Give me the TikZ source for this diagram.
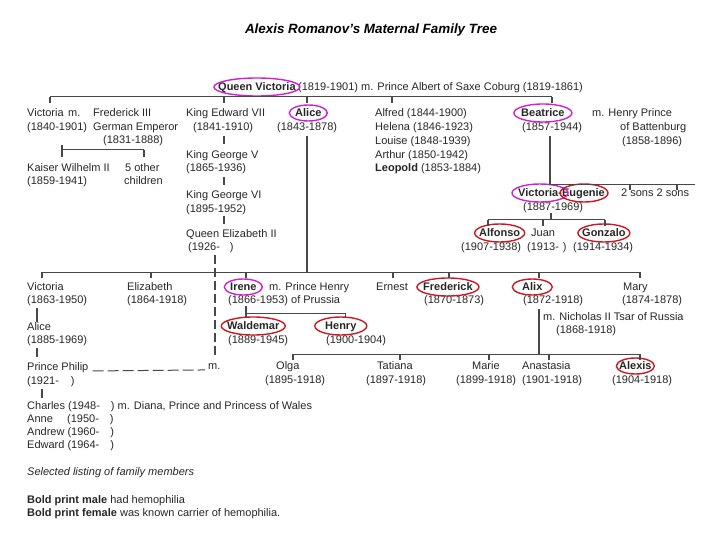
\documentclass[tikz,border=0pt]{standalone}
\usepackage{fontspec}
\setmainfont{Liberation Sans}
\definecolor{ringmag}{RGB}{208,32,208}
\definecolor{ringred}{RGB}{204,24,36}
\definecolor{inkgrey}{RGB}{72,72,72}
\newcommand{\tfs}{\fontsize{11}{13}\selectfont}

\begin{document}
\begin{tikzpicture}[x=1pt,y=-1pt,
  every node/.style={anchor=west,inner sep=0pt,text height=7.5pt,text depth=0pt,font=\tfs,text=black!85},
  heavy/.style={font=\tfs\bfseries},
  title/.style={anchor=center,font=\fontsize{13.4}{16}\selectfont\bfseries\itshape,text=black},
  line/.style={draw=inkgrey,line width=1pt},
  tick/.style={draw=inkgrey,line width=1.4pt},
  carrier/.style={draw=ringmag,line width=1.4pt},
  bleeder/.style={draw=ringred,line width=1.4pt}]
  \useasboundingbox (0,0) rectangle (720,540);

  \node[title] (head) at (371,30) {Alexis Romanov's Maternal Family Tree};

  % Victoria and Albert
  \node[heavy] (qv) at (218,87) {Queen Victoria};
  \node (qvm) at (298,87) {(1819-1901) m. Prince Albert of Saxe Coburg (1819-1861)};

  % their children
  \node (vic) at (27,113) {Victoria};
  \node (vicm) at (68,113) {m.};
  \node (fred) at (93,113) {Frederick III};
  \node (vicd) at (27,127) {(1840-1901)};
  \node (fredt) at (93,127) {German Emperor};
  \node (fredd) at (103,140) {(1831-1888)};
  \node (kw) at (27,168) {Kaiser Wilhelm II};
  \node (kwd) at (27,181) {(1859-1941)};
  \node (oth) at (125,168) {5 other};
  \node (othd) at (124,181) {children};

  \node (ke) at (186,113) {King Edward VII};
  \node (ked) at (193,127) {(1841-1910)};
  \node (kgv) at (186,155) {King George V};
  \node (kgvd) at (186,168) {(1865-1936)};
  \node (kgvi) at (186,195) {King George VI};
  \node (kgvid) at (186,209) {(1895-1952)};
  \node (qe) at (186,234) {Queen Elizabeth II};
  \node (qed) at (188,247) {(1926-\hspace{10pt})};

  \node[heavy] (alice) at (295,113) {Alice};
  \node (aliced) at (277,127) {(1843-1878)};

  \node (alf) at (375,113) {Alfred (1844-1900)};
  \node (hel) at (375,127) {Helena (1846-1923)};
  \node (lou) at (375,141) {Louise (1848-1939)};
  \node (art) at (375,155) {Arthur (1850-1942)};
  \node (leo) at (375,168) {\textbf{Leopold} (1853-1884)};

  \node[heavy] (bea) at (521,113) {Beatrice};
  \node (bead) at (522,127) {(1857-1944)};
  \node (hp) at (592,113) {m. Henry Prince};
  \node (hpt) at (620,127) {of Battenburg};
  \node (hpd) at (622,141) {(1858-1896)};

  \node[heavy] (ve) at (518,193) {Victoria-Eugenie};
  \node (ved) at (523,207) {(1887-1969)};
  \node (sons) at (621,193) {2 sons 2 sons};
  \node[heavy] (alfo) at (479,233) {Alfonso};
  \node (alfod) at (461,247) {(1907-1938)};
  \node (juan) at (531,233) {Juan};
  \node (juand) at (527,247) {(1913-\hspace{4pt})};
  \node[heavy] (gonz) at (582,233) {Gonzalo};
  \node (gonzd) at (573,247) {(1914-1934)};

  % Alice's children
  \node (vic2) at (27,287) {Victoria};
  \node (vic2d) at (27,300) {(1863-1950)};
  \node (ali2) at (27,327) {Alice};
  \node (ali2d) at (27,340) {(1885-1969)};
  \node (pp) at (27,367) {Prince Philip};
  \node (ppm) at (208,366) {m.};
  \node (ppd) at (27,381) {(1921-\hspace{12pt})};
  \node (cha) at (27,406) {Charles (1948-\hspace{11pt}) m. Diana, Prince and Princess of Wales};
  \node (ann) at (27,419) {Anne};
  \node (annd) at (67,419) {(1950-\hspace{11pt})};
  \node (andr) at (27,432) {Andrew (1960-\hspace{11pt})};
  \node (edw) at (27,445) {Edward (1964-\hspace{11pt})};

  \node (eli) at (127,287) {Elizabeth};
  \node (elid) at (127,300) {(1864-1918)};
  \node[heavy] (ire) at (230,287) {Irene};
  \node (irem) at (269,287) {m. Prince Henry};
  \node (ired) at (228,300) {(1866-1953) of Prussia};
  \node[heavy] (wal) at (227,326) {Waldemar};
  \node (wald) at (228,340) {(1889-1945)};
  \node[heavy] (hen) at (325,326) {Henry};
  \node (hend) at (326,340) {(1900-1904)};
  \node (ern) at (376,287) {Ernest};
  \node[heavy] (frk) at (423,287) {Frederick};
  \node (frkd) at (424,300) {(1870-1873)};
  \node[heavy] (alix) at (522,287) {Alix};
  \node (alixd) at (523,300) {(1872-1918)};
  \node (mary) at (623,287) {Mary};
  \node (maryd) at (622,300) {(1874-1878)};
  \node (nic) at (543,317) {m. Nicholas II Tsar of Russia};
  \node (nicd) at (556,330) {(1868-1918)};

  % Alix's children
  \node (olga) at (276,366) {Olga};
  \node (olgad) at (265,380) {(1895-1918)};
  \node (tat) at (377,366) {Tatiana};
  \node (tatd) at (366,380) {(1897-1918)};
  \node (mar) at (472,366) {Marie};
  \node (mard) at (456,380) {(1899-1918)};
  \node (ana) at (522,366) {Anastasia};
  \node (anad) at (522,380) {(1901-1918)};
  \node[heavy] (alex) at (619,366) {Alexis};
  \node (alexd) at (612,380) {(1904-1918)};

  % key
  \node[font=\tfs\itshape] (sel) at (27,472) {Selected listing of family members};
  \node (key1) at (27,500) {\textbf{Bold print male} had hemophilia};
  \node (key2) at (27,513) {\textbf{Bold print female} was known carrier of hemophilia.};

  % rings
  \draw[carrier] (qv.center) ellipse (43 and 9);
  \draw[carrier] (alice.center) ellipse (19 and 8);
  \draw[carrier] (bea.center) ellipse (29 and 9);
  \draw[carrier] (540,193) ellipse (28 and 9);
  \draw[carrier] (ire.center) ellipse (19 and 8);
  \draw[bleeder] (584,193) ellipse (24 and 9);
  \draw[bleeder] (alfo.center) ellipse (25 and 9);
  \draw[bleeder] (gonz.center) ellipse (26 and 9);
  \draw[bleeder] (wal.center) ellipse (32 and 9);
  \draw[bleeder] (hen.center) ellipse (26 and 9);
  \draw[bleeder] (frk.center) ellipse (31 and 9);
  \draw[bleeder] (alix.center) ellipse (20 and 8);
  \draw[bleeder] (alex.center) ellipse (19 and 8);

  % lines
  \coordinate (g1w) at (50,97);
  \coordinate (g1e) at (552,97);
  \draw[line] (g1w) -- (g1e);
  \foreach \x in {50,224,307,392,552} \draw[tick] (\x,97) -- ++(0,6);
  \draw[line] (62,150) -- (144,150);
  \draw[tick] (62,145) -- (62,157);
  \draw[tick] (144,150) -- (144,157);
  \foreach \y in {136,177,216} \draw[tick] (224,\y) -- ++(0,8);

  \coordinate (g2w) at (42,272);
  \coordinate (g2e) at (640,272);
  \draw[line,line width=1.4pt] (307,136) -- (307,272);
  \draw[line] (g2w) -- (g2e);
  \foreach \x in {42,151,246,393,449,539,640} \draw[tick] (\x,272) -- ++(0,6);
  \draw[tick,dash pattern=on 9pt off 4pt,line width=1.7pt] (215,255) -- (215,358);
  \draw[line,dash pattern=on 11pt off 4pt] ([xshift=4pt]pp.south east) -- ([xshift=-3pt]ppm.south west);
  \draw[tick] (37,308) -- (37,322);
  \draw[tick] (37,348) -- (37,357);
  \draw[tick] (42,389) -- (42,398);

  \draw[tick] (246,306) -- (246,318);
  \draw[line] (246,313) -- (345,313) -- (345,318);

  \draw[line,line width=1.4pt] (550,136) -- (550,185);
  \draw[line] (550,185) -- (695,185);
  \draw[tick] (630,185) -- ++(0,5);
  \draw[tick] (677,185) -- ++(0,5);
  \draw[tick] (551,213) -- (551,220);
  \draw[line] (488,220) -- (605,220);
  \foreach \x in {488,543,605} \draw[tick] (\x,220) -- ++(0,6);

  \draw[line,line width=1.4pt] (539,309) -- (539,354);
  \draw[line] (293,354) -- (640,354);
  \foreach \x in {293,400,489,549,640} \draw[tick] (\x,354) -- ++(0,6);
\end{tikzpicture}
\end{document}
